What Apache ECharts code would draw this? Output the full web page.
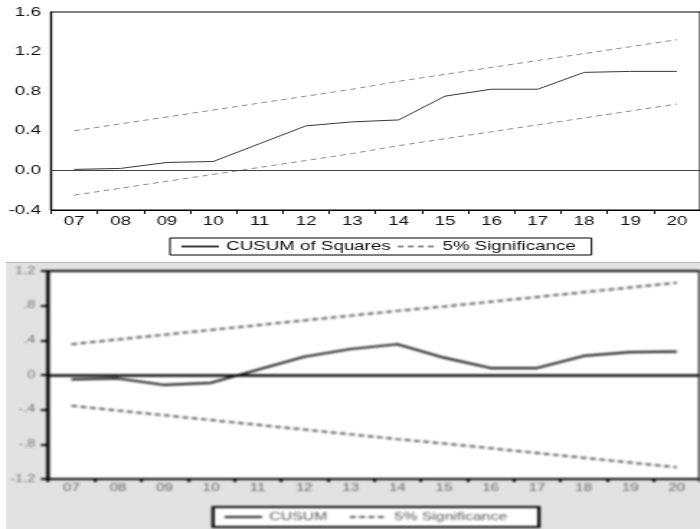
<!DOCTYPE html>
<html>
<head>
<meta charset="utf-8">
<script src="https://cdn.jsdelivr.net/npm/echarts@6/dist/echarts.min.js"></script>
<style>
  html, body { margin: 0; padding: 0; background: #fff; width: 700px; height: 529px; overflow: hidden; }
  /* both panels are laid out narrow and widened horizontally, like the exported EViews graph */
  #sq { position: absolute; left: 0; top: 0; width: 486px; height: 262px; transform: scaleX(1.44033); transform-origin: 0 0; }
  #cusumPanel { position: absolute; left: 6px; top: 262px; width: 694px; height: 267px; box-sizing: border-box;
                border-top: 1px solid #bcbcbc; background: #e2e2e2; overflow: hidden; }
  #cu { width: 482px; height: 266px; transform: scaleX(1.43983); transform-origin: 0 0; filter: blur(0.85px); }
</style>
</head>
<body>
<div id="sq"></div>
<div id="cusumPanel"><div id="cu"></div></div>
<script>
// Sample periods on the horizontal axis
const periods = ['07', '08', '09', '10', '11', '12', '13', '14', '15', '16', '17', '18', '19', '20'];

// CUSUM of squares statistic and its 5% significance band
const cusumSq = [0.01, 0.02, 0.08, 0.09, 0.27, 0.45, 0.49, 0.51, 0.75, 0.82, 0.82, 0.99, 1.00, 1.00];
const sqUpper = [0.40, 0.47, 0.54, 0.61, 0.68, 0.75, 0.82, 0.90, 0.97, 1.04, 1.11, 1.18, 1.25, 1.32];
const sqLower = [-0.25, -0.18, -0.11, -0.04, 0.03, 0.10, 0.17, 0.25, 0.32, 0.39, 0.46, 0.53, 0.60, 0.67];

// CUSUM statistic and its 5% significance band
const cusum = [-0.05, -0.04, -0.115, -0.09, 0.06, 0.21, 0.30, 0.355, 0.20, 0.08, 0.08, 0.22, 0.265, 0.27];
const cuUpper = [0.355, 0.41, 0.465, 0.52, 0.575, 0.63, 0.685, 0.74, 0.79, 0.845, 0.90, 0.955, 1.01, 1.065];
const cuLower = [-0.355, -0.41, -0.465, -0.52, -0.575, -0.63, -0.685, -0.74, -0.79, -0.845, -0.90, -0.955, -1.01, -1.065];

const font = "'Liberation Sans', Arial, sans-serif";

// ---- CUSUM of Squares panel ----
const sqChart = echarts.init(document.getElementById('sq'));
sqChart.setOption({
  animation: false,
  backgroundColor: '#fff',
  grid: { left: 35.4, right: -6.3, top: 12, bottom: 52, show: true, borderColor: '#000', borderWidth: 1 },
  legend: {
    left: 118, top: 238, padding: [1, 11, 1, 7],
    itemWidth: 26, itemHeight: 10, itemGap: 4,
    borderColor: '#000', borderWidth: 1,
    itemStyle: { opacity: 0 },
    textStyle: { fontFamily: font, fontSize: 13, color: '#111', lineHeight: 15 },
    data: ['CUSUM of Squares', '5% Significance']
  },
  xAxis: {
    type: 'category', data: periods, boundaryGap: true,
    axisLine: { onZero: false, lineStyle: { color: '#000', width: 1 } },
    axisTick: { show: true, length: 4, lineStyle: { color: '#000' } },
    axisLabel: { margin: 5, fontFamily: font, fontSize: 13, color: '#111' }
  },
  yAxis: {
    type: 'value', min: -0.4, max: 1.6, interval: 0.4,
    splitLine: { show: false },
    axisLine: { show: true, lineStyle: { color: '#000', width: 1.4 } },
    axisTick: { show: false },
    axisLabel: {
      margin: 7, fontFamily: font, fontSize: 13, color: '#111',
      formatter: v => (Math.round(v * 10) / 10).toFixed(1)
    }
  },
  series: [
    {
      name: 'CUSUM of Squares', type: 'line', data: cusumSq, symbol: 'none',
      lineStyle: { color: '#3a3a3a', width: 1 }, itemStyle: { color: '#3a3a3a' },
      markLine: {
        silent: true, symbol: 'none', label: { show: false },
        lineStyle: { color: '#444', width: 1, type: 'solid' },
        data: [{ yAxis: 0 }]
      }
    },
    {
      name: '5% Significance', type: 'line', data: sqUpper, symbol: 'none',
      lineStyle: { color: '#8c8c8c', width: 1, type: [4, 3] }, itemStyle: { color: '#8c8c8c' }
    },
    {
      name: '5% Significance', type: 'line', data: sqLower, symbol: 'none',
      lineStyle: { color: '#8c8c8c', width: 1, type: [4, 3] }, itemStyle: { color: '#8c8c8c' }
    }
  ]
});

// ---- CUSUM panel ----
const cuLabel = v => {
  const r = Math.round(v * 10) / 10;
  if (r === 0) return '0';
  const s = Math.abs(r).toFixed(1).replace(/^0/, '');
  return (r < 0 ? '-' : '') + s;
};

const cuChart = echarts.init(document.getElementById('cu'));
cuChart.setOption({
  animation: false,
  backgroundColor: '#e2e2e2',
  grid: { left: 29.2, right: -2.6, top: 8, bottom: 50, show: true, backgroundColor: '#fff', borderColor: '#000', borderWidth: 2.2 },
  legend: {
    left: 143.8, top: 244, padding: [4, 22, 4, 7],
    itemWidth: 26, itemHeight: 10, itemGap: 14.7,
    borderColor: '#000', borderWidth: 2.2, backgroundColor: '#fff',
    itemStyle: { opacity: 0 },
    textStyle: { fontFamily: font, fontSize: 11, color: '#555', lineHeight: 12 },
    data: ['CUSUM', '5% Significance']
  },
  xAxis: {
    type: 'category', data: periods, boundaryGap: true,
    axisLine: { onZero: false, lineStyle: { color: '#000', width: 2.2 } },
    axisTick: { show: true, length: 3, lineStyle: { color: '#000', width: 2 } },
    axisLabel: { margin: 4, fontFamily: font, fontSize: 10.5, color: '#666' }
  },
  yAxis: {
    type: 'value', min: -1.2, max: 1.2, interval: 0.4,
    splitLine: { show: false },
    axisLine: { show: true, lineStyle: { color: '#000', width: 2.2 } },
    axisTick: { show: true, length: 5, lineStyle: { color: '#000', width: 2 } },
    axisLabel: { margin: 9, fontFamily: font, fontSize: 10, color: '#777', formatter: cuLabel }
  },
  series: [
    {
      name: 'CUSUM', type: 'line', data: cusum, symbol: 'none',
      lineStyle: { color: '#1e1e1e', width: 2.2 }, itemStyle: { color: '#1e1e1e' },
      markLine: {
        silent: true, symbol: 'none', label: { show: false },
        lineStyle: { color: '#000', width: 2.6, type: 'solid' },
        data: [{ yAxis: 0 }]
      }
    },
    {
      name: '5% Significance', type: 'line', data: cuUpper, symbol: 'none',
      lineStyle: { color: '#555', width: 2, type: [4, 2.5] }, itemStyle: { color: '#555' }
    },
    {
      name: '5% Significance', type: 'line', data: cuLower, symbol: 'none',
      lineStyle: { color: '#555', width: 2, type: [4, 2.5] }, itemStyle: { color: '#555' }
    }
  ]
});
</script>
</body>
</html>
